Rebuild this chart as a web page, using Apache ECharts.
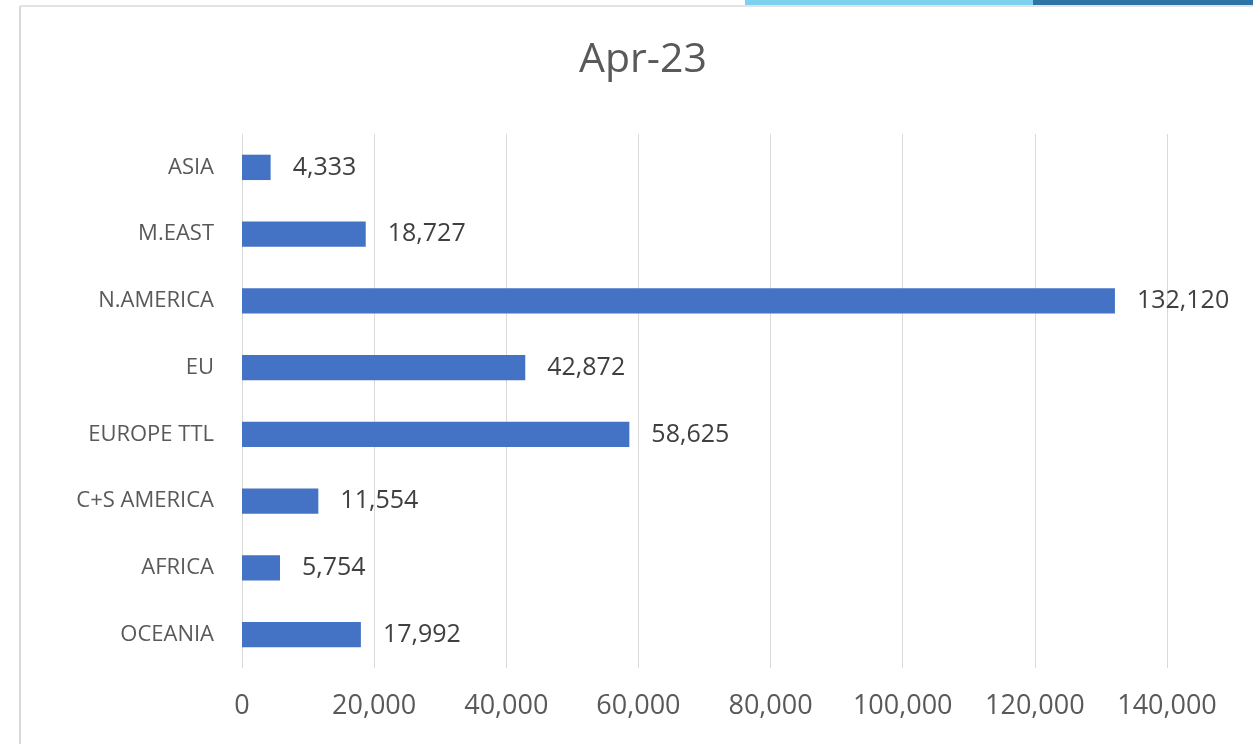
<!DOCTYPE html>
<html>
<head>
<meta charset="utf-8">
<script src="https://cdn.jsdelivr.net/npm/echarts@6/dist/echarts.min.js"></script>
<style>
html,body{margin:0;padding:0;background:#fff;}
#chart{width:1253px;height:744px;}
</style>
</head>
<body>
<div id="chart"></div>
<script>
const categories = ['OCEANIA','AFRICA','C+S AMERICA','EUROPE TTL','EU','N.AMERICA','M.EAST','ASIA'];
const values = [17992, 5754, 11554, 58625, 42872, 132120, 18727, 4333];
const titleText = 'Apr-23';

const chart = echarts.init(document.getElementById('chart'));
const fontFam = '"Open Sans", "Noto Sans", sans-serif';
chart.setOption({
  backgroundColor: '#ffffff',
  animation: false,
  title: {
    text: titleText,
    left: 638,
    textAlign: 'center',
    top: 35,
    textStyle: {fontFamily: fontFam, fontSize: 41, fontWeight: 'normal', color: '#595959'}
  },
  graphic: [
    {type: 'line', shape: {x1: 20, y1: 6, x2: 20, y2: 744}, style: {stroke: '#d9d9d9', lineWidth: 2}},
    {type: 'line', shape: {x1: 20, y1: 6, x2: 1253, y2: 6}, style: {stroke: '#e3e3e3', lineWidth: 2}},
    {type: 'rect', shape: {x: 745, y: 0, width: 290, height: 5}, style: {fill: '#7dd3ef'}},
    {type: 'rect', shape: {x: 1033, y: 0, width: 220, height: 5}, style: {fill: '#2e74a6'}}
  ],
  grid: {left: 242, right: 86, top: 134, bottom: 76, containLabel: false},
  xAxis: {
    type: 'value',
    min: 0, max: 140000, interval: 20000,
    axisLine: {show: false},
    axisTick: {show: false},
    splitLine: {lineStyle: {color: '#d9d9d9', width: 1}},
    axisLabel: {
      margin: 25,
      fontFamily: fontFam, fontSize: 27, color: '#595959',
      formatter: v => v.toLocaleString('en-US')
    }
  },
  yAxis: {
    type: 'category',
    data: categories,
    axisLine: {show: false},
    axisTick: {show: false},
    axisLabel: {margin: 28, fontFamily: fontFam, fontSize: 22, color: '#595959'}
  },
  series: [{
    type: 'bar',
    data: values,
    barCategoryGap: '62%',
    itemStyle: {color: '#4472c4'},
    label: {
      show: true, position: 'right', distance: 22,
      fontFamily: fontFam, fontSize: 25, color: '#404040',
      formatter: p => p.value.toLocaleString('en-US')
    }
  }]
});
</script>
</body>
</html>
